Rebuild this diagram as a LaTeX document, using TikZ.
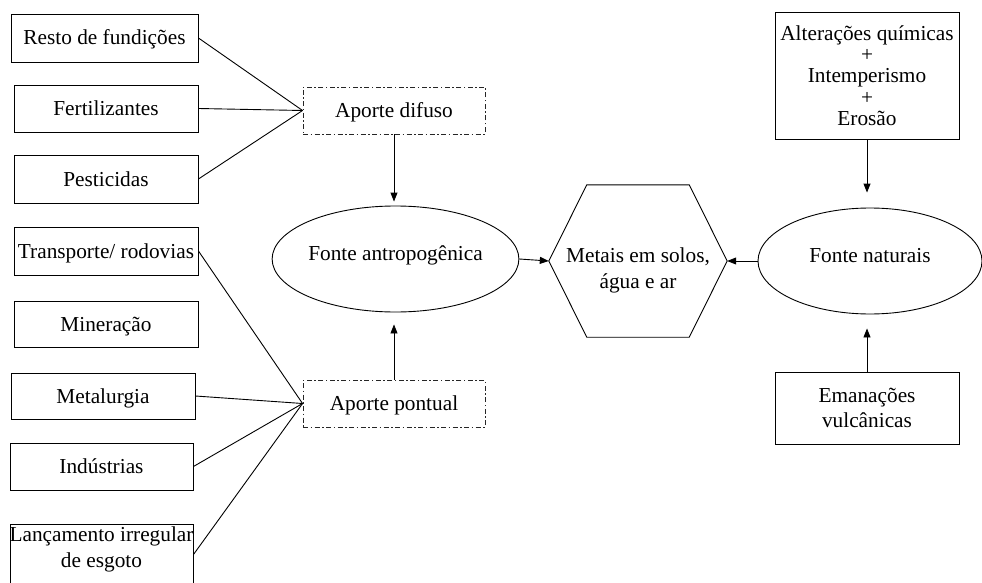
\documentclass[tikz,border=0pt]{standalone}
\usepackage{fontspec}
\setmainfont{Liberation Serif}
\usetikzlibrary{arrows.meta,shapes.geometric}
\begin{document}
\begin{tikzpicture}[x=1pt,y=-1pt,
  every node/.style={font=\fontsize{21.3}{25.5}\selectfont, inner sep=0pt},
  box/.style={draw, line width=0.9pt, align=center},
  one/.style={text height=14pt, text depth=0pt},
  dbox/.style={draw=black!85, line width=0.9pt, text height=14pt, text depth=0pt,
     dash pattern=on 5pt off 2.5pt on 1.5pt off 2.5pt},
  ell/.style={draw, ellipse, line width=0.9pt, text height=14pt, text depth=12pt},
  ln/.style={line width=0.9pt},
  arr/.style={line width=0.9pt, -{Triangle[length=9pt,width=7pt]}}
]
\useasboundingbox (0,0) rectangle (982,583);

% left boxes
\node[box,one,minimum width=187pt,minimum height=48pt] (r1) at (104.5,38) {Resto de fundições};
\node[box,one,minimum width=184pt,minimum height=47pt] (r2) at (106,108.5) {Fertilizantes};
\node[box,one,minimum width=184pt,minimum height=48pt] (r3) at (106,179) {Pesticidas};
\node[box,one,minimum width=184pt,minimum height=48pt] (r4) at (106,251) {Transporte/ rodovias};
\node[box,one,minimum width=184pt,minimum height=46pt] (r5) at (106,324) {Mineração};
\node[box,one,minimum width=184pt,minimum height=46pt] (r6) at (103,396) {Metalurgia};
\node[box,one,minimum width=183pt,minimum height=47pt] (r7) at (101.5,466.5) {Indústrias};
\node[box,minimum width=183pt,minimum height=90pt] (r8) at (101.5,569) {};
\node[align=center] (r8t) at (101.5,549.5) {Lançamento irregular\\de esgoto};

% aporte boxes
\node[dbox,minimum width=182pt,minimum height=47pt] (dif) at (394,110.5) {Aporte difuso};
\node[dbox,minimum width=182pt,minimum height=47pt] (pon) at (394,403.5) {Aporte pontual};

% ellipses
\node[ell,minimum width=227pt,minimum height=106pt] (ant) at (395.5,259) {Fonte antropogênica};
\node[ell,minimum width=224pt,minimum height=106pt] (nat) at (870,261) {Fonte naturais};

% hexagon
\node[minimum width=178pt,minimum height=152pt] (met) at (638,261) {};
\draw[ln] (met.west) -- ([xshift=38pt]met.north west) -- ([xshift=-38pt]met.north east)
  -- (met.east) -- ([xshift=-38pt]met.south east) -- ([xshift=38pt]met.south west) -- cycle;
\node[align=center] (mett) at (638,270.5) {Metais em solos,\\água e ar};

% right boxes
\node[box,minimum width=184pt,minimum height=127pt,
  font=\fontsize{21.3}{21.3}\selectfont] (alt) at (867,75.5)
  {Alterações químicas\\+\\Intemperismo\\+\\Erosão};
\node[box,minimum width=184pt,minimum height=72pt] (ema) at (867,408) {Emanações\\vulcânicas};

% connectors left
\draw[ln] (r1.east) -- (dif.west);
\draw[ln] (r2.east) -- (dif.west);
\draw[ln] (r3.east) -- (dif.west);
\draw[ln] (r4.east) -- (pon.west);
\draw[ln] (r6.east) -- (pon.west);
\draw[ln] (r7.east) -- (pon.west);
\draw[ln] ([yshift=-31pt]r8.north east) -- (pon.west);

% arrows
\draw[arr,shorten >=4pt] (dif.south) -- (dif.south |- ant.north);
\draw[arr,shorten >=12pt] (pon.north) -- (pon.north |- ant.south);
\draw[arr] (ant.east) -- (met.west);
\draw[arr] (nat.west) -- (met.east);
\draw[arr,shorten >=15pt] (alt.south) -- (alt.south |- nat.north);
\draw[arr,shorten >=14pt] (ema.north) -- (ema.north |- nat.south);
\end{tikzpicture}
\end{document}
